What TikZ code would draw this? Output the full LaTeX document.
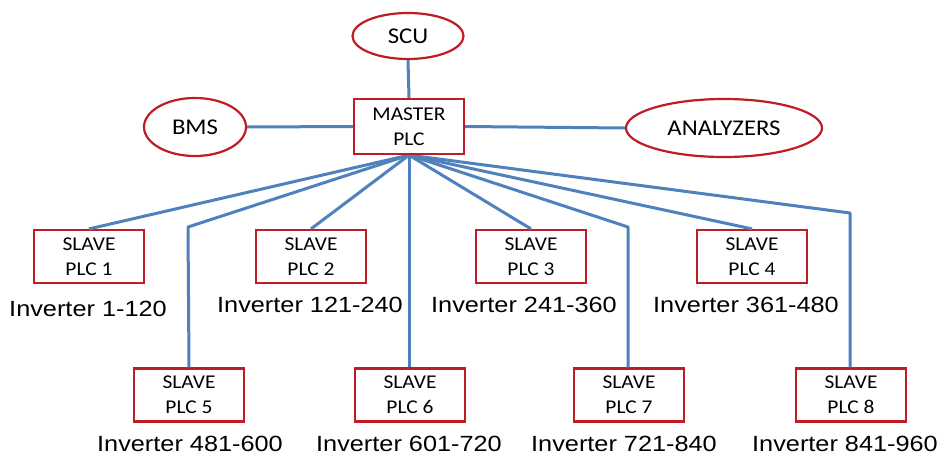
\documentclass[tikz,border=0pt]{standalone}
\usepackage{fontspec}
\usepackage{graphicx}
\setmainfont{Carlito}
\newfontfamily\arialf{Liberation Sans}
\usetikzlibrary{shapes.geometric}
\definecolor{boxred}{RGB}{192,28,38}
\definecolor{linkblue}{RGB}{79,129,189}
\newcommand{\hs}[1]{\scalebox{1.1}[1]{#1}}
\newcommand{\hl}[1]{\scalebox{1.15}[1]{#1}}
\tikzset{
  plcbox/.style={draw=boxred, line width=2.2pt, fill=white, rectangle, inner sep=0pt,
    minimum width=110pt, minimum height=53pt, align=center,
    font=\fontsize{19.5}{25}\selectfont},
  oval/.style={draw=boxred, line width=2.2pt, fill=white, ellipse, inner sep=0pt,
    font=\fontsize{22.5}{27}\selectfont},
  invlabel/.style={inner sep=0pt, font=\arialf\fontsize{22}{26}\selectfont},
  link/.style={draw=linkblue, line width=3pt, line join=round}
}
\begin{document}
\begin{tikzpicture}[x=1pt,y=-1pt]
\useasboundingbox (0,0) rectangle (939,455);
% top level
\node[oval, minimum width=111pt, minimum height=46pt] (scu) at (408,36) {\hs{SCU}};
\node[oval, minimum width=102pt, minimum height=58pt] (bms) at (195,127) {\hs{BMS}};
\node[oval, minimum width=196pt, minimum height=58pt] (ana) at (724,128) {\hs{ANALYZERS}};
\node[plcbox, minimum height=55pt] (m) at (409,126.5) {\hs{MASTER}\\\hs{PLC}};
% slaves row 1
\node[plcbox] (s1) at (89,256.5) {\hs{SLAVE}\\\hs{PLC 1}};
\node[plcbox] (s2) at (311,256.5) {\hs{SLAVE}\\\hs{PLC 2}};
\node[plcbox] (s3) at (531,256.5) {\hs{SLAVE}\\\hs{PLC 3}};
\node[plcbox] (s4) at (752,256.5) {\hs{SLAVE}\\\hs{PLC 4}};
% slaves row 2
\node[plcbox] (s5) at (189,395) {\hs{SLAVE}\\\hs{PLC 5}};
\node[plcbox] (s6) at (410,395) {\hs{SLAVE}\\\hs{PLC 6}};
\node[plcbox] (s7) at (629,395) {\hs{SLAVE}\\\hs{PLC 7}};
\node[plcbox] (s8) at (851,395) {\hs{SLAVE}\\\hs{PLC 8}};
% labels
\node[invlabel] (l1) at (88,309) {\hl{Inverter 1-120}};
\node[invlabel] (l2) at (310,305) {\hl{Inverter 121-240}};
\node[invlabel] (l3) at (524,305) {\hl{Inverter 241-360}};
\node[invlabel] (l4) at (746,305) {\hl{Inverter 361-480}};
\node[invlabel] (l5) at (190,444) {\hl{Inverter 481-600}};
\node[invlabel] (l6) at (409,444) {\hl{Inverter 601-720}};
\node[invlabel] (l7) at (624,444) {\hl{Inverter 721-840}};
\node[invlabel] (l8) at (845,444) {\hl{Inverter 841-960}};
% corners
\coordinate (c5) at (188,227);
\coordinate (c7) at (628,227);
\coordinate (c8) at (850,213);
\coordinate (ms) at (409,155);
% links
\begin{scope}[on background layer/.try]
\end{scope}
\draw[link] (scu.south) -- (m.north);
\draw[link] (bms.east) -- (m.west);
\draw[link] (m.east) -- (ana.west);
\draw[link] (m.south) -- (s1.north);
\draw[link] (m.south) -- (c5) -- (s5.north);
\draw[link] (m.south) -- (s2.north);
\draw[link] (m.south) -- (s6.north -| m.south);
\draw[link] (m.south) -- (s3.north);
\draw[link] (m.south) -- (c7) -- (s7.north -| c7);
\draw[link] (m.south) -- (s4.north);
\draw[link] (m.south) -- (c8) -- (s8.north -| c8);
% redraw borders over link ends
\node[plcbox, minimum height=55pt] at (m) {\hs{MASTER}\\\hs{PLC}};
\end{tikzpicture}
\end{document}
